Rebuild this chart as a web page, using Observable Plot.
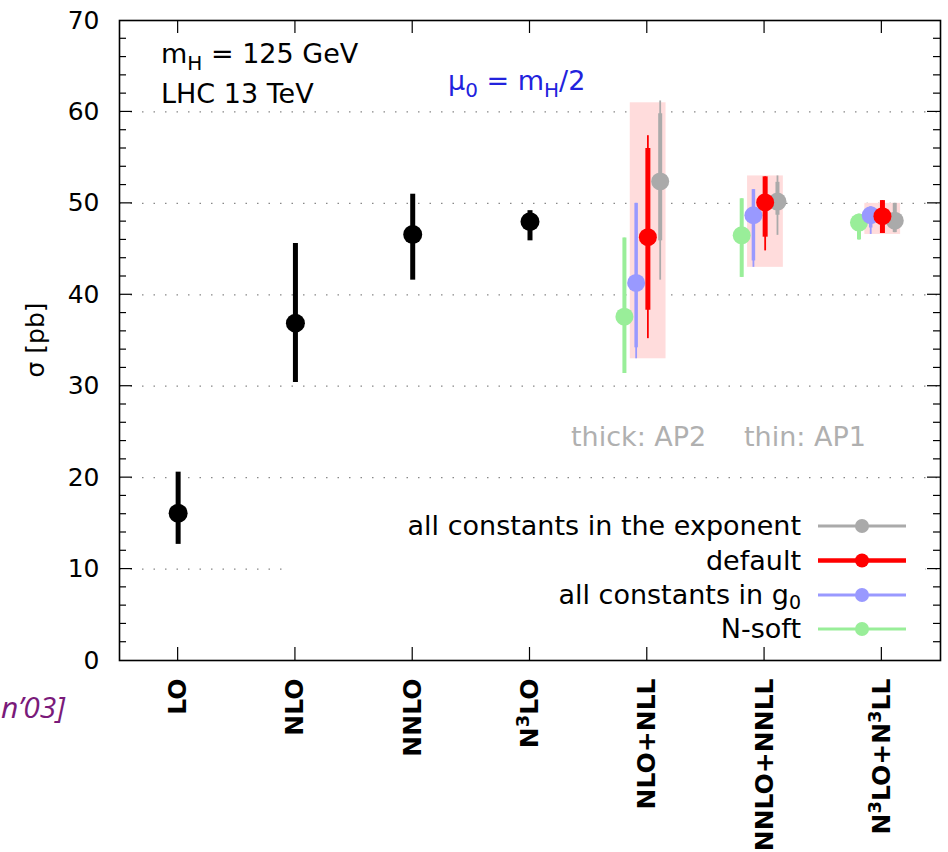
<!DOCTYPE html>
<html><head><meta charset="utf-8">
<script src="https://cdn.jsdelivr.net/npm/d3@7"></script>
<script src="https://cdn.jsdelivr.net/npm/@observablehq/plot@0.6"></script>
<style>body{margin:0;background:#fff}</style>
</head><body><div id="chart"></div>
<script>
// ---------- data ----------
const categories = ["LO","NLO","NNLO","N³LO","NLO+NLL","NNLO+NNLL","N³LO+N³LL"];
const yTicks = [0,10,20,30,40,50,60,70];
const gridValues = [10,20,30,40,50,60];

// fixed order (black)
const foIndex   = [0, 1, 2, 3];
const foCentral = [16.1, 36.9, 46.6, 48.0];
const foLow     = [12.7, 30.4, 41.6, 45.9];
const foHigh    = [20.6, 45.6, 51.0, 49.2];

// resummed (categories 4,5,6)
const resIndex = [4, 5, 6];
const expCentral   = [52.4, 50.2, 48.1];
const expThickLow  = [45.9, 48.7, 46.8];
const expThickHigh = [59.8, 52.3, 50.0];
const expThinLow   = [41.6, 46.5, 46.8];
const expThinHigh  = [61.2, 53.0, 50.0];

const defCentral   = [46.3, 50.1, 48.6];
const defThickLow  = [38.3, 46.3, 46.7];
const defThickHigh = [56.0, 52.9, 50.3];
const defThinLow   = [35.2, 44.8, 46.7];
const defThinHigh  = [57.4, 52.9, 50.3];

const g0Central    = [41.3, 48.7, 48.7];
const g0ThickLow   = [34.2, 43.7, 47.3];
const g0ThickHigh  = [50.0, 51.5, 49.6];
const g0ThinLow    = [33.0, 43.0, 46.6];
const g0ThinHigh   = [50.0, 51.5, 49.6];

const nsCentral    = [37.6, 46.5, 47.9];
const nsLow        = [31.4, 41.9, 46.0];
const nsHigh       = [46.2, 50.5, 48.8];

const envLow  = [33.0, 43.0, 46.6];
const envHigh = [61.0, 53.0, 50.0];

// ---------- build tables ----------
const fo = foIndex.map((k,i)=>({x:k, c:foCentral[i], lo:foLow[i], hi:foHigh[i]}));
const series = [
  {key:"exp", name:"all constants in the exponent", color:"#aaaaaa", dx:0.11, thick:4, c:expCentral, tl:expThickLow, th:expThickHigh, nl:expThinLow, nh:expThinHigh},
  {key:"ns", name:"N-soft", color:"#99ee99", dx:-0.195, thick:4, c:nsCentral, tl:nsLow, th:nsHigh, nl:nsLow, nh:nsHigh},
  {key:"g0", name:"all constants in g0", color:"#9999ff", dx:-0.095, thick:3.5, c:g0Central, tl:g0ThickLow, th:g0ThickHigh, nl:g0ThinLow, nh:g0ThinHigh},
  {key:"def", name:"default", color:"#ff0000", dx:0.005, thick:5, c:defCentral, tl:defThickLow, th:defThickHigh, nl:defThinLow, nh:defThinHigh}
];
const env = resIndex.map((k,i)=>({x:k, lo:envLow[i], hi:envHigh[i]}));

const seriesMarks = series.flatMap(s=>{
  const rows = resIndex.map((k,i)=>({x:k+s.dx, c:s.c[i], tl:s.tl[i], th:s.th[i], nl:s.nl[i], nh:s.nh[i]}));
  return [
    Plot.ruleX(rows, {x:"x", y1:"nl", y2:"nh", stroke:s.color, strokeWidth:1.8}),
    Plot.ruleX(rows, {x:"x", y1:"tl", y2:"th", stroke:s.color, strokeWidth:s.thick}),
    Plot.dot(rows, {x:"x", y:"c", r:9, fill:s.color, stroke:"none"})
  ];
});

const plot = Plot.plot({
  width: 948, height: 852,
  marginLeft: 119, marginRight: 8, marginTop: 20, marginBottom: 192,
  style: {fontFamily: "DejaVu Sans", fontSize: "25px", background: "white", color: "black"},
  x: {domain: [-0.5, 6.5]},
  y: {domain: [0, 70]},
  marks: [
    Plot.gridY(gridValues, {stroke:"#888", strokeOpacity:1, strokeDasharray:"1.5,10", strokeWidth:1.2}),
    Plot.rect(env, {x1: d=>d.x-0.145, x2: d=>d.x+0.16, y1:"lo", y2:"hi", fill:"#ffdcdc"}),
    ...seriesMarks,
    Plot.ruleX(fo, {x:"x", y1:"lo", y2:"hi", stroke:"black", strokeWidth:5}),
    Plot.dot(fo, {x:"x", y:"c", r:9.5, fill:"black", stroke:"none"}),
    Plot.axisY(yTicks, {tickSize:0, tickPadding:20, fontSize:25, label:null}),
    Plot.axisX(d3.range(categories.length), {tickSize:0, tickPadding:18, tickRotate:-90, tickFormat:i=>categories[i], fontSize:25, fontWeight:"bold", label:null}),
    Plot.frame({stroke:"black", strokeWidth:1.6})
  ]
});
document.getElementById("chart").appendChild(plot);

// ---------- decorations via scales ----------
const svg = d3.select(plot);
const xs = plot.scale("x"), ys = plot.scale("y");
const X0 = xs.apply(-0.5), X1 = xs.apply(6.5), Y0 = ys.apply(0), Y1 = ys.apply(70);

// real superscripts in the x tick labels
svg.selectAll('g[aria-label="x-axis tick label"] text').each(function() {
  const el = d3.select(this);
  const s = el.text();
  if (!s.includes("³")) return;
  el.text(null);
  const parts = s.split("³");
  parts.forEach((p, j) => {
    if (j > 0) el.append("tspan").attr("font-size", 18).attr("dy", -9).text("3");
    if (p) el.append("tspan").attr("font-size", 25).attr("dy", j > 0 ? 9 : 0).text(p);
  });
});

// legend with white background
const lg = svg.append("g").attr("font-family","DejaVu Sans").attr("font-size",27).attr("text-anchor","end");
lg.append("rect").attr("x",282).attr("y",505).attr("width",643).attr("height",148).attr("fill","white");
const legendOrder = [series[0], series[3], series[2], series[1]];
const rowY = [526, 560.5, 595, 629];
legendOrder.forEach((s,i)=>{
  const cy = rowY[i];
  const t = lg.append("text").attr("x",801).attr("y",cy+9).attr("fill","black");
  if (s.key === "g0") {
    t.append("tspan").text("all constants in g");
    t.append("tspan").attr("font-size",19).attr("dy",5).text("0");
  } else t.text(s.name);
  lg.append("line").attr("x1",818).attr("x2",906).attr("y1",cy).attr("y2",cy)
    .attr("stroke",s.color).attr("stroke-width", s.key==="def"?4.5:3);
  lg.append("circle").attr("cx",862).attr("cy",cy).attr("r",7).attr("fill",s.color);
});

// ticks (inward)
const tg = svg.append("g").attr("stroke","black").attr("stroke-width",1.2);
for (let v = 2; v < 70; v += 2) {
  const len = v % 10 === 0 ? 13 : 7, yy = ys.apply(v);
  tg.append("line").attr("x1",X0).attr("x2",X0+len).attr("y1",yy).attr("y2",yy);
  tg.append("line").attr("x1",X1).attr("x2",X1-len).attr("y1",yy).attr("y2",yy);
}
categories.forEach((c,i)=>{
  const xx = xs.apply(i);
  tg.append("line").attr("x1",xx).attr("x2",xx).attr("y1",Y0).attr("y2",Y0-13);
  tg.append("line").attr("x1",xx).attr("x2",xx).attr("y1",Y1).attr("y2",Y1+13);
});

// annotations
const ann = svg.append("g").attr("font-family","DejaVu Sans").attr("font-size",27).attr("text-anchor","start");
const t1 = ann.append("text").attr("x",161).attr("y",63).attr("fill","black");
t1.append("tspan").text("m");
t1.append("tspan").attr("font-size",20).attr("dy",7).text("H");
t1.append("tspan").attr("dy",-7).text(" = 125 GeV");
ann.append("text").attr("x",161).attr("y",103).attr("fill","black").text("LHC 13 TeV");
const t2 = ann.append("text").attr("x",448).attr("y",90).attr("fill","#2222dd");
t2.append("tspan").text("μ");
t2.append("tspan").attr("font-size",20).attr("dy",7).text("0");
t2.append("tspan").attr("dy",-7).text(" = m");
t2.append("tspan").attr("font-size",20).attr("dy",7).text("H");
t2.append("tspan").attr("dy",-7).text("/2");
ann.append("text").attr("x",571).attr("y",446).attr("fill","#b0b0b0").text("thick: AP2");
ann.append("text").attr("x",744).attr("y",446).attr("fill","#b0b0b0").text("thin: AP1");
ann.append("text").attr("transform","translate(44,340) rotate(-90)").attr("text-anchor","middle")
  .attr("fill","black").attr("font-size",25).text("σ [pb]");
ann.append("text").attr("x",1).attr("y",718).attr("text-anchor","start").attr("font-family","Open Sans")
  .attr("font-style","italic").attr("font-size",30).attr("fill","#7a1a7a").text("n’03]");
</script></body></html>
